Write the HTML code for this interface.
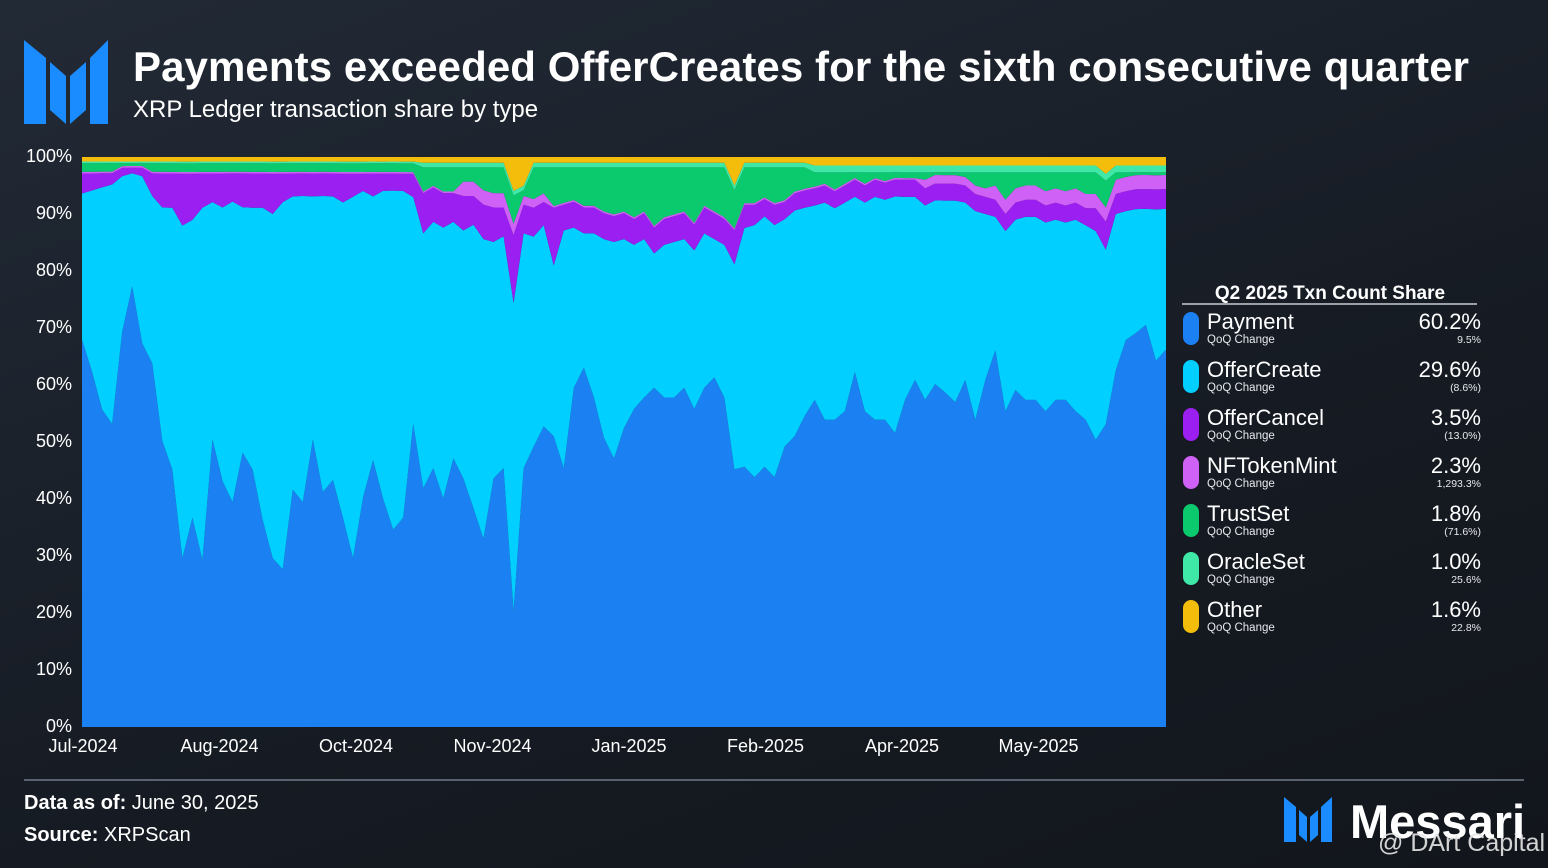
<!DOCTYPE html>
<html><head><meta charset="utf-8">
<style>
html,body{margin:0;padding:0}
body{width:1548px;height:868px;overflow:hidden;background:linear-gradient(160deg,#222a36 0%,#161b23 60%,#12161c 100%);font-family:"Liberation Sans",sans-serif;color:#fff;position:relative}
.abs{position:absolute}
</style></head><body>
<svg class="abs" style="left:0;top:0" width="1548" height="868">
  <g fill="#1a8cff">
    <polygon points="24,40 46,58 46,124 24,124"/>
    <polygon points="50,62 66,76 66,124 50,110"/>
    <polygon points="70,76 86,62 86,110 70,124"/>
    <polygon points="90,58 108,40 108,124 90,124"/>
  </g>
  <text x="133" y="81" font-size="42" font-weight="bold" fill="#fff" textLength="1336">Payments exceeded OfferCreates for the sixth consecutive quarter</text>
  <text x="133" y="117" font-size="24" fill="#fff">XRP Ledger transaction share by type</text>
  <g id="plot"></g>
  <g id="yaxis"></g>
  <g id="xaxis"></g>
  <line x1="24" y1="780" x2="1524" y2="780" stroke="#5a6270" stroke-width="2"/>
  <text x="24" y="809" font-size="20" fill="#fff"><tspan font-weight="bold">Data as of:</tspan> June 30, 2025</text>
  <text x="24" y="841" font-size="20" fill="#fff"><tspan font-weight="bold">Source:</tspan> XRPScan</text>
  <g fill="#1a8cff">
    <polygon points="1284,797 1296,807 1296,842 1284,842"/>
    <polygon points="1299,810 1307,817 1307,842 1299,835"/>
    <polygon points="1310,817 1318,810 1318,835 1310,842"/>
    <polygon points="1321,807 1332,797 1332,842 1321,842"/>
  </g>
  <text x="1350" y="838" font-size="47" font-weight="bold" fill="#fff">Messari</text>
  <text x="1378" y="851" font-size="25" fill="#e8e8e8" opacity="0.9">@ DArt Capital</text>
  <g id="legend"></g>
</svg>
<script>
const categories = Array.from({length:109},(_, i)=>i); // sample index (Jul-2024 .. Jun-2025)
const payment=[67.9,62.6,56.5,53.9,69.6,78.4,67.9,64.4,50.4,45.1,29.3,36.3,29.3,50.4,43.3,39.8,48.6,45.1,36.3,29.3,27.5,41.6,39.8,50.4,41.6,43.3,36.3,29.3,39.8,46.8,39.8,34.6,36.3,52.1,41.6,45.1,39.8,46.8,43.3,38.1,32.8,43.3,45.1,20.5,45.1,48.6,52.1,50.4,45.1,59.1,62.6,57.4,50.4,46.8,52.1,55.4,57.4,59.1,57.4,57.4,59.1,55.4,59.1,60.9,57.4,45.1,45.1,43.3,45.1,43.3,48.6,50.4,53.9,57.4,53.9,53.9,55.4,62.6,55.4,53.9,53.9,52.1,57.4,60.9,57.4,60.9,59.1,57.4,60.9,53.9,60.9,66.1,55.4,59.1,57.4,57.4,55.4,57.4,57.4,55.4,53.9,50.4,53.9,62.6,67.9,69.6,71.4,64.4,67.0];
const offerCreate=[25.6,31.9,39.5,42.6,27.4,20.1,29.6,29.6,41.1,45.9,57.7,51.7,61.7,41.6,48.2,53.2,43.4,45.9,54.7,59.7,64,51.4,54.2,42.6,52.4,49.7,54.7,62.7,53.2,46.2,53.7,59.4,56.7,38.9,44.4,42.9,47.2,41.2,43.2,49.4,52.2,41.2,40.4,54.5,40.9,36.4,34.9,29.6,41.4,27.9,23.4,28.6,34.6,37.7,32.9,28.6,27.6,23.4,26.6,27.1,25.9,27.6,26.9,24.1,26.6,35.9,41.4,43.7,43.4,43.7,39.4,39.1,36.1,34.1,38.1,37.1,36.6,30.9,36.6,39.1,38.6,41.9,35.6,32.1,34.1,32.6,33.9,35.6,31.1,36.6,29.1,23.4,31.6,29.9,32.1,32.1,33.1,31.6,31.1,33.6,34.1,36.6,31.1,27.4,22.6,21.9,20.6,26.6,25];
const offerCancel=[3.5,3,2.5,2,1.5,1,1.5,4,6,6,9,8,6,5,6,5,6,6,6,7,5,4,4,4,4,4,5,4,3,4,3,3,3,4,7,6,6,5,6,5,6,6,5,12,5,5,4,10,4.5,4.5,4.5,4.5,4.5,4.5,4.5,4.5,4.5,4.5,4.5,4.5,4.5,4.5,4.5,4.5,4.5,6,4,3.5,3,3.5,3,3,3,3,3,3,3,3,3,3,3,3,3,3,3,3,3,3,3,3,3,3,3,3,3,3,3,3,3,3,3,4,5,3.5,3.5,3.5,3.5,3.5,3.5];
const nftMint=[0.3,0.3,0.3,0.3,0.3,0.3,0.3,0.3,0.3,0.3,0.3,0.3,0.3,0.3,0.3,0.3,0.3,0.3,0.3,0.3,0.3,0.3,0.3,0.3,0.3,0.3,0.3,0.3,0.3,0.3,0.3,0.3,0.3,0.3,0.3,0.3,0.3,0.3,2.5,2.5,2.5,2.5,2.5,2,1.5,1.5,1.5,0.3,0.3,0.3,0.3,0.3,0.3,0.3,0.3,0.3,0.3,0.3,0.3,0.3,0.3,0.3,0.3,0.3,0.3,0.3,0.3,0.3,0.3,0.3,0.3,0.3,0.3,0.3,0.3,0.3,0.3,0.3,0.3,0.3,0.3,0.3,0.3,0.3,1.5,1.5,1.5,1.5,1.5,1.5,1.5,2.5,2.5,2.5,2.5,2.5,2.5,2.5,2.5,2.5,2.5,2.5,2.5,2.5,2.5,2.5,2.5,2.5,2.5];
const trustSet=[1.5,1.5,1.5,1.5,0.5,0.5,0.5,1.5,1.5,1.5,1.5,1.5,1.5,1.5,1.5,1.5,1.5,1.5,1.5,1.5,1.5,1.5,1.5,1.5,1.5,1.5,1.5,1.5,1.5,1.5,1.5,1.5,1.5,1.5,4.2,3.2,4.2,4.2,2.5,2.5,4,4.5,4.5,5,1,5.5,4.5,6.7,6.2,5.7,6.7,6.7,7.7,8.2,7.7,8.7,7.7,10.2,8.7,8.2,7.7,9.7,6.7,7.7,8.7,6.7,6.2,6.2,5.2,6.2,5.7,4.2,3.7,2.5,2,3,2,1,2,1,1.5,1,1,1,1.3,0.5,0.5,0.5,0.8,2.3,2.8,2.3,4.8,2.8,2.3,2.3,3.3,2.8,3.3,2.8,3.8,3.8,4.8,1.3,0.8,0.5,0.5,0.5,0.5];
const oracleSet=[0.3,0.3,0.3,0.3,0.3,0.3,0.3,0.3,0.3,0.3,0.3,0.3,0.3,0.3,0.3,0.3,0.3,0.3,0.3,0.3,0.3,0.3,0.3,0.3,0.3,0.3,0.3,0.3,0.3,0.3,0.3,0.3,0.3,0.3,0.8,0.8,0.8,0.8,0.8,0.8,0.8,0.8,0.8,0.8,0.8,0.8,0.8,0.8,0.8,0.8,0.8,0.8,0.8,0.8,0.8,0.8,0.8,0.8,0.8,0.8,0.8,0.8,0.8,0.8,0.8,0.8,0.8,0.8,0.8,0.8,0.8,0.8,0.8,1.2,1.2,1.2,1.2,1.2,1.2,1.2,1.2,1.2,1.2,1.2,1.2,1.2,1.2,1.2,1.2,1.2,1.2,1.2,1.2,1.2,1.2,1.2,1.2,1.2,1.2,1.2,1.2,1.2,1.2,1.2,1.2,1.2,1.2,1.2,1.2];
const other=[0.8,0.8,0.8,0.8,0.8,0.8,0.8,0.8,0.8,0.8,0.8,0.8,0.8,0.8,0.8,0.8,0.8,0.8,0.8,0.8,0.8,0.8,0.8,0.8,0.8,0.8,0.8,0.8,0.8,0.8,0.8,0.8,0.8,0.8,1,1,1,1,1,1,1,1,1,6,5,1,1,1,1,1,1,1,1,1,1,1,1,1,1,1,1,1,1,1,1,5,1,1,1,1,1,1,1,1.5,1.5,1.5,1.5,1.5,1.5,1.5,1.5,1.5,1.5,1.5,1.5,1.5,1.5,1.5,1.5,1.5,1.5,1.5,1.5,1.5,1.5,1.5,1.5,1.5,1.5,1.5,1.5,1.5,3,1.5,1.5,1.5,1.5,1.5,1.5];
const yTicks=[0,10,20,30,40,50,60,70,80,90,100];
const xTickLabels=["Jul-2024","Aug-2024","Oct-2024","Nov-2024","Jan-2025","Feb-2025","Apr-2025","May-2025"];
const xTickIndex=[0,13.6,27.2,40.8,54.4,68,81.6,95.2];
const legendNames=["Payment","OfferCreate","OfferCancel","NFTokenMint","TrustSet","OracleSet","Other"];
const legendValues=["60.2%","29.6%","3.5%","2.3%","1.8%","1.0%","1.6%"];
const legendChanges=["9.5%","(8.6%)","(13.0%)","1,293.3%","(71.6%)","25.6%","22.8%"];

const NS="http://www.w3.org/2000/svg";
const X0=82,X1=1166,Y0=727,Y1=157;
const xs=i=>X0+i*(X1-X0)/(categories.length-1);
const ys=v=>Y0-v/100*(Y0-Y1);
function mk(tag,attrs,parent){const e=document.createElementNS(NS,tag);for(const k in attrs)e.setAttribute(k,attrs[k]);parent.appendChild(e);return e;}

const series=[payment,offerCreate,offerCancel,nftMint,trustSet,oracleSet,other];
const colors=["#1b80f2","#00cfff","#9a1ff0","#d061f6","#0bc96d","#3fe8a6","#f4bd0b"];
const keys=["payment","offercreate","offercancel","nftokenmint","trustset","oracleset","other"];
const plot=document.getElementById('plot');
const totals=categories.map((_,i)=>series.reduce((s,a)=>s+a[i],0));
let lower=categories.map(()=>0);
series.forEach((arr,si)=>{
  const upper=lower.map((l,i)=>l+arr[i]/totals[i]*100);
  let pts=[];
  categories.forEach((c,i)=>pts.push(xs(c).toFixed(2)+","+ys(upper[i]).toFixed(2)));
  for(let i=categories.length-1;i>=0;i--)pts.push(xs(categories[i]).toFixed(2)+","+ys(lower[i]).toFixed(2));
  const p=mk('polygon',{points:pts.join(' '),fill:colors[si]},plot);
  
  
  lower=upper;
});

const ya=document.getElementById('yaxis');
yTicks.forEach(t=>{
  const e=mk('text',{x:72,y:ys(t)+5,'font-size':18,fill:'#fff','text-anchor':'end'},ya);
  e.textContent=t+'%';
  
  
});
const xa=document.getElementById('xaxis');
xTickLabels.forEach((l,i)=>{
  const e=mk('text',{x:xs(xTickIndex[i])+1,y:752,'font-size':18,fill:'#fff','text-anchor':'middle'},xa);
  e.textContent=l;
  
  
});

const lg=document.getElementById('legend');
const lt=mk('text',{x:1330,y:299,'font-size':19,'font-weight':'bold',fill:'#fff','text-anchor':'middle'},lg);
lt.textContent="Q2 2025 Txn Count Share";


const ll=mk('line',{x1:1182,y1:304,x2:1477,y2:304,stroke:'#c8ccd2','stroke-width':1.5},lg);


legendNames.forEach((n,i)=>{
  const y=312+i*48;
  const g=mk('g',{},lg);
  
  
  mk('rect',{x:1183,y:y,width:16,height:33,rx:8,fill:colors[i]},g);
  const t1=mk('text',{x:1207,y:y+17,'font-size':22,fill:'#fff'},g);t1.textContent=n;
  const t2=mk('text',{x:1207,y:y+31,'font-size':11.5,fill:'#e6e8ec'},g);t2.textContent="QoQ Change";
  const t3=mk('text',{x:1481,y:y+17,'font-size':22,fill:'#fff','text-anchor':'end'},g);t3.textContent=legendValues[i];
  const t4=mk('text',{x:1481,y:y+31,'font-size':10.5,fill:'#e6e8ec','text-anchor':'end'},g);t4.textContent=legendChanges[i];
});
</script>
</body></html>
